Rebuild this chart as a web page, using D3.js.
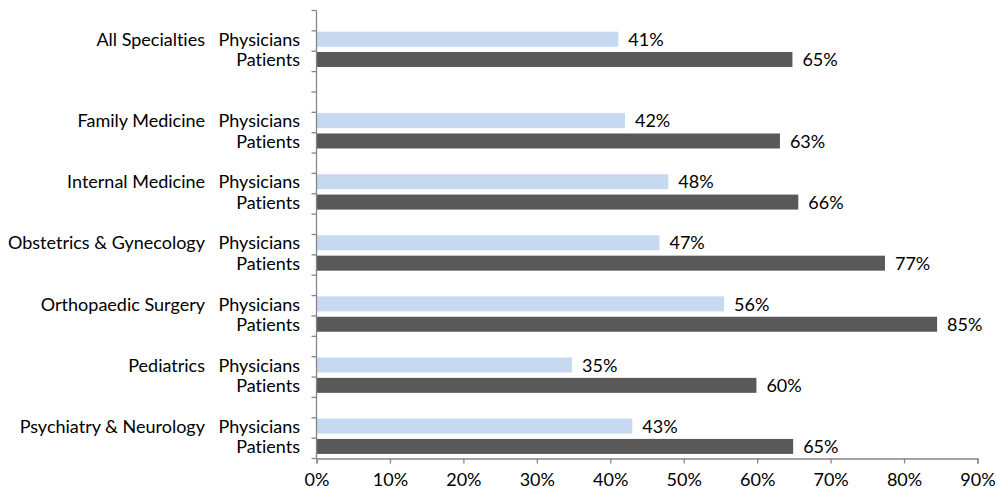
<!DOCTYPE html>
<html><head><meta charset="utf-8">
<script src="https://cdn.jsdelivr.net/npm/d3@7"></script>
<style>body{margin:0;background:#fff;} text{font-family:Lato,"Open Sans",sans-serif;font-variant-ligatures:none;font-feature-settings:"liga" 0;}</style>
</head><body>
<svg id="c" width="996" height="495"></svg>
<script>
const groups = ["All Specialties", "Family Medicine", "Internal Medicine", "Obstetrics & Gynecology", "Orthopaedic Surgery", "Pediatrics", "Psychiatry & Neurology"];
const seriesNames = ["Physicians", "Patients"];
const physicians = [41.1, 42.0, 47.9, 46.7, 55.5, 34.8, 43.0];
const patients = [64.8, 63.1, 65.6, 77.4, 84.5, 59.9, 64.9];
const xTicks = [0, 10, 20, 30, 40, 50, 60, 70, 80, 90];
const colors = ["#C6D9F1", "#595959"];

(function () {
const FS = 18;
// build category slots (Excel-style with blank rows)
const slots = ["_b0"];
const rows = [];
groups.forEach((g, i) => {
  seriesNames.forEach((s, j) => {
    const key = g + "|" + s;
    slots.push(key);
    rows.push({group: g, series: s, j, value: j === 0 ? physicians[i] : patients[i]});
  });
  if (i === 0) { slots.push("_b1"); slots.push("_b2"); }
  else if (i < groups.length - 1) slots.push("_b" + (i + 2));
});

const svg = d3.select("#c");
const mLeft = 316.5, mRight = 977.5, mTop = 10.5, mBottom = 458.5;
const x = d3.scaleLinear().domain([0, 90]).range([mLeft, mRight]);
const y = d3.scaleBand().domain(slots).range([mTop, mBottom]).padding(0);
const axisColor = "#868686";

// bars
svg.selectAll("rect.bar").data(rows).enter().append("rect")
  .attr("x", x(0))
  .attr("y", d => y(d.group + "|" + d.series) + 0.8)
  .attr("width", d => x(d.value) - x(0))
  .attr("height", 15)
  .attr("fill", d => colors[d.j]);

// value labels
svg.selectAll("text.val").data(rows).enter().append("text")
  .attr("x", d => x(d.value) + 10)
  .attr("y", d => y(d.group + "|" + d.series) + 8.5)
  .attr("dy", "0.36em")
  .attr("font-size", FS)
  .attr("fill", "#000")
  .text(d => Math.round(d.value) + "%");

// y axis line & ticks at band boundaries
const yBounds = slots.map(s => y(s)).concat([mBottom]);
svg.append("line").attr("x1", mLeft).attr("x2", mLeft).attr("y1", mTop).attr("y2", mBottom)
  .attr("stroke", axisColor).attr("stroke-width", 1.3);
svg.selectAll("line.yt").data(yBounds).enter().append("line")
  .attr("x1", mLeft - 5).attr("x2", mLeft).attr("y1", d => d).attr("y2", d => d)
  .attr("stroke", axisColor).attr("stroke-width", 1.3);

// x axis
const xAxis = d3.axisBottom(x).tickValues(xTicks).tickFormat(d => d + "%").tickSize(5).tickPadding(10);
const gx = svg.append("g").attr("transform", `translate(0,${mBottom})`).call(xAxis);
gx.select(".domain").attr("stroke", axisColor).attr("stroke-width", 1.3);
gx.selectAll(".tick line").attr("stroke", axisColor).attr("stroke-width", 1.3);
gx.selectAll(".tick text").attr("font-size", FS).attr("fill", "#000").attr("font-family", "Lato,'Open Sans',sans-serif");

// series labels
svg.selectAll("text.sl").data(rows).enter().append("text")
  .attr("x", 300)
  .attr("y", d => y(d.group + "|" + d.series) + 8.5)
  .attr("dy", "0.36em")
  .attr("text-anchor", "end")
  .attr("font-size", FS)
  .attr("fill", "#000")
  .text(d => d.series);

// group labels
svg.selectAll("text.gl").data(groups).enter().append("text")
  .attr("x", 205)
  .attr("y", g => y(g + "|" + seriesNames[0]) + 8.5)
  .attr("dy", "0.36em")
  .attr("text-anchor", "end")
  .attr("font-size", FS)
  .attr("fill", "#000")
  .text(g => g);
})();
</script>
</body></html>
